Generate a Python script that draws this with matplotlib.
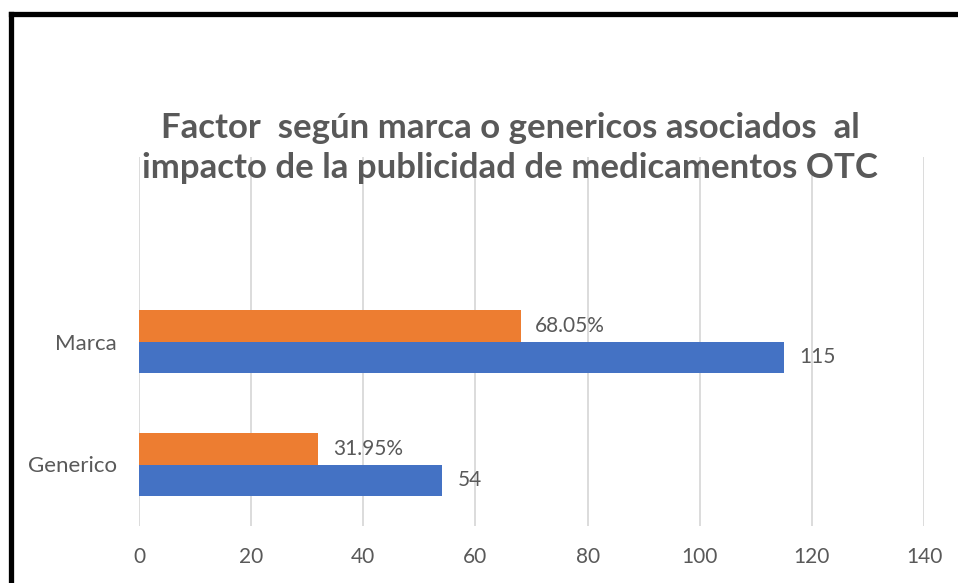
import matplotlib.pyplot as plt
from matplotlib.lines import Line2D

# data
categories = ['Generico', 'Marca']
counts = [54, 115]
percents = [31.95, 68.05]
count_labels = ['54', '115']
percent_labels = ['31.95%', '68.05%']
xticks = [0, 20, 40, 60, 80, 100, 120, 140]

title = 'Factor  según marca o genericos asociados  al\nimpacto de la publicidad de medicamentos OTC'

blue = '#4472C4'
orange = '#ED7D31'
grey = '#595959'

plt.rcParams['font.family'] = ['Lato', 'DejaVu Sans']

fig = plt.figure(figsize=(9.58, 5.83), dpi=100)
ax = fig.add_axes([139 / 958, 57 / 583, 785 / 958, 369 / 583])

ypos = list(range(len(categories)))
h = 0.26

# bars
ax.barh([y - h / 2 for y in ypos], counts, height=h, color=blue, zorder=2)
ax.barh([y + h / 2 for y in ypos], percents, height=h, color=orange, zorder=2)

# data labels
for y, v, lab in zip(ypos, counts, count_labels):
    ax.text(v + 2.8, y - h / 2, lab, va='center', ha='left', fontsize=15, color=grey)
for y, v, lab in zip(ypos, percents, percent_labels):
    ax.text(v + 2.6, y + h / 2, lab, va='center', ha='left', fontsize=15, color=grey)

ax.set_xlim(0, 140)
ax.set_ylim(-0.5, 2.5)
ax.set_xticks(xticks)
ax.set_yticks(ypos)
ax.set_yticklabels(categories)
ax.tick_params(length=0, colors=grey)
ax.tick_params(axis='x', labelsize=15, pad=15)
ax.tick_params(axis='y', labelsize=16, pad=16)
ax.grid(axis='x', color='#D9D9D9', linewidth=1.3, zorder=0)
for s in ax.spines.values():
    s.set_visible(False)

# title
fig.text(510 / 958, 1 - 148 / 583, title, ha='center', va='center', multialignment='center',
         fontsize=25, fontweight='bold', color=grey, linespacing=1.3)

# black frame, only top and left edges fall inside the picture
x0 = 10.5 / 958
y0 = 1 - 13.5 / 583
fig.add_artist(Line2D([x0, 1.01], [y0, y0], transform=fig.transFigure, color='black', linewidth=3.8))
fig.add_artist(Line2D([x0, x0], [y0, -0.01], transform=fig.transFigure, color='black', linewidth=3.8))

fig.savefig('out.png', dpi=100)
